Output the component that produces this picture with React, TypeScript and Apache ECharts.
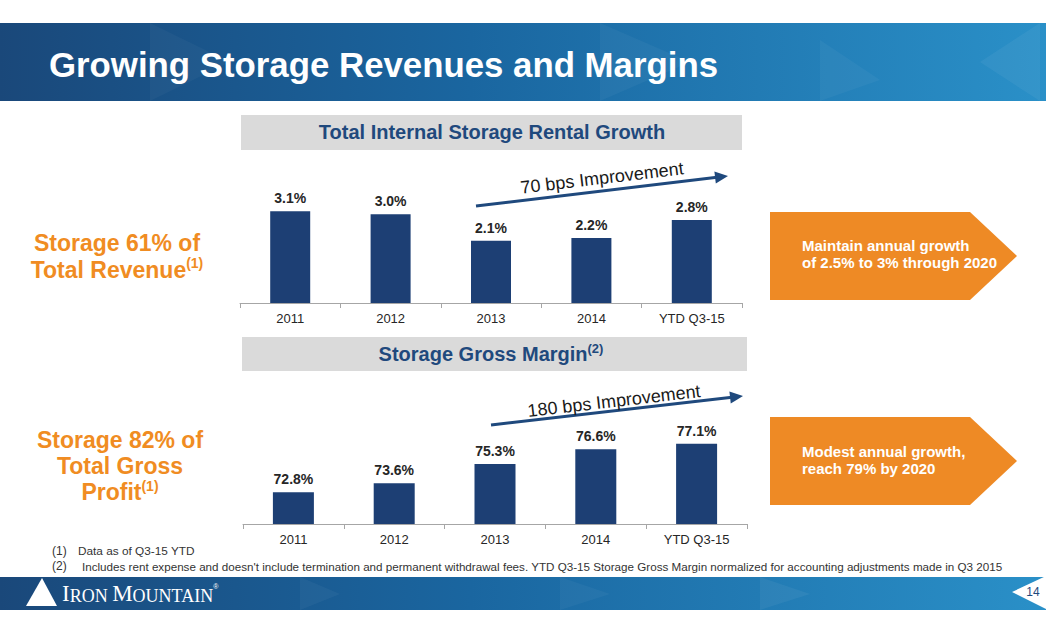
import React, { useEffect, useRef } from "react";
import * as echarts from "echarts";

const categories = ["2011", "2012", "2013", "2014", "YTD Q3-15"];
const rentalGrowth = [3.1, 3.0, 2.1, 2.2, 2.8];
const grossMargin = [72.8, 73.6, 75.3, 76.6, 77.1];

const FONT = "'Liberation Sans', Arial, Helvetica, sans-serif";
const SERIF = "'Liberation Serif', 'DejaVu Serif', serif";
const NAVY = "#1f497d";
const BAR = "#1d3f74";
const ORANGE = "#f08c22";
const BOX = "#ee8a25";
const AXIS = "#a6a6a6";

function arrow(x1: number, y1: number, x2: number, y2: number) {
  const a = Math.atan2(y2 - y1, x2 - x1);
  const L = 13, W = 6;
  const bx = x2 - L * Math.cos(a), by = y2 - L * Math.sin(a);
  const px = -Math.sin(a), py = Math.cos(a);
  return [
    { type: "line", shape: { x1, y1, x2: bx + 2 * Math.cos(a), y2: by + 2 * Math.sin(a) }, style: { stroke: NAVY, lineWidth: 3 } },
    {
      type: "polygon",
      shape: { points: [[x2, y2], [bx + px * W, by + py * W], [bx - px * W, by - py * W]] },
      style: { fill: NAVY },
    },
  ];
}

function bandGradient() {
  return new echarts.graphic.LinearGradient(0, 0, 1, 0, [
    { offset: 0, color: "#1a487a" },
    { offset: 0.45, color: "#1a66a0" },
    { offset: 1, color: "#2a90c8" },
  ]);
}

export default function App() {
  const ref = useRef<HTMLDivElement>(null);
  useEffect(() => {
    document.body.style.margin = "0";
    const chart = echarts.init(ref.current!, null, { renderer: "svg" });
    const labelStyle = {
      show: true,
      position: "top",
      distance: 6,
      fontFamily: FONT,
      fontSize: 14,
      fontWeight: "bold",
      color: "#262626",
      formatter: (p: any) => Number(p.value).toFixed(1) + "%",
    };
    const xAxisCommon = {
      type: "category",
      data: categories,
      axisLine: { lineStyle: { color: AXIS, width: 1 } },
      axisTick: { show: true, length: 5, lineStyle: { color: AXIS } },
      axisLabel: { fontFamily: FONT, fontSize: 13, color: "#262626", margin: 9 },
    };
    const tri = (pts: number[][], op: number) => ({
      type: "polygon",
      shape: { points: pts },
      style: { fill: "rgba(255,255,255," + op + ")" },
    });
    chart.setOption({
      animation: false,
      backgroundColor: "#ffffff",
      grid: [
        { left: 240, width: 502, top: 155, bottom: 332 },
        { left: 243, width: 504, top: 377, bottom: 111 },
      ],
      xAxis: [
        { ...xAxisCommon, gridIndex: 0 },
        { ...xAxisCommon, gridIndex: 1 },
      ],
      yAxis: [
        { type: "value", gridIndex: 0, min: 0, max: 5, show: false, splitLine: { show: false } },
        { type: "value", gridIndex: 1, min: 70, max: 83, show: false, splitLine: { show: false } },
      ],
      series: [
        {
          type: "bar",
          xAxisIndex: 0,
          yAxisIndex: 0,
          data: rentalGrowth,
          barWidth: 40,
          itemStyle: { color: BAR },
          label: labelStyle,
        },
        {
          type: "bar",
          xAxisIndex: 1,
          yAxisIndex: 1,
          data: grossMargin,
          barWidth: 41,
          itemStyle: { color: BAR },
          label: labelStyle,
        },
      ],
      graphic: [
        // header band
        { type: "rect", shape: { x: 0, y: 23, width: 1046, height: 78 }, style: { fill: bandGradient() } },
        tri([[150, 23], [230, 62], [150, 101]], 0.03),
        tri([[600, 23], [690, 62], [600, 101]], 0.04),
        tri([[820, 40], [880, 80], [820, 101]], 0.04),
        tri([[1040, 23], [980, 62], [1040, 101]], 0.05),
        {
          type: "text",
          x: 49,
          y: 64,
          style: { text: "Growing Storage Revenues and Margins", fill: "#ffffff", font: "bold 34.8px " + FONT, textVerticalAlign: "middle" },
        },
        // grey section headers
        { type: "rect", shape: { x: 241, y: 115, width: 501, height: 35 }, style: { fill: "#dadada" } },
        {
          type: "text",
          x: 492,
          y: 132,
          style: { text: "Total Internal Storage Rental Growth", fill: NAVY, font: "bold 20px " + FONT, textAlign: "center", textVerticalAlign: "middle" },
        },
        { type: "rect", shape: { x: 242, y: 337, width: 505, height: 34 }, style: { fill: "#dadada" } },
        {
          type: "text",
          x: 491,
          y: 354,
          style: {
            text: "{a|Storage Gross Margin}{s|(2)}",
            textAlign: "center",
            textVerticalAlign: "middle",
            rich: {
              a: { fontFamily: FONT, fontSize: 20, fontWeight: "bold", fill: NAVY, lineHeight: 24, align: "center" },
              s: { fontFamily: FONT, fontSize: 13, fontWeight: "bold", fill: NAVY, lineHeight: 14, verticalAlign: "top", align: "center" },
            },
          },
        },
        // improvement arrows
        ...arrow(476, 206, 728, 176),
        {
          type: "text",
          x: 602,
          y: 178,
          rotation: 0.119,
          style: { text: "70 bps Improvement", fill: "#1a1a1a", font: "18px " + FONT, textAlign: "center", textVerticalAlign: "middle" },
        },
        ...arrow(491, 425, 743, 396),
        {
          type: "text",
          x: 614,
          y: 401,
          rotation: 0.115,
          style: { text: "180 bps Improvement", fill: "#1a1a1a", font: "18px " + FONT, textAlign: "center", textVerticalAlign: "middle" },
        },
        // left orange callouts
        {
          type: "text",
          x: 117,
          y: 256,
          style: {
            text: "{a|Storage 61% of}\n{a|Total Revenue}{s|(1)}",
            textAlign: "center",
            textVerticalAlign: "middle",
            rich: {
              a: { fontFamily: FONT, fontSize: 23, fontWeight: "bold", fill: ORANGE, lineHeight: 27, align: "center" },
              s: { fontFamily: FONT, fontSize: 14, fontWeight: "bold", fill: ORANGE, lineHeight: 17, verticalAlign: "top", align: "center" },
            },
          },
        },
        {
          type: "text",
          x: 120,
          y: 466,
          style: {
            text: "{a|Storage 82% of}\n{a|Total Gross}\n{a|Profit}{s|(1)}",
            textAlign: "center",
            textVerticalAlign: "middle",
            rich: {
              a: { fontFamily: FONT, fontSize: 23, fontWeight: "bold", fill: ORANGE, lineHeight: 26, align: "center" },
              s: { fontFamily: FONT, fontSize: 14, fontWeight: "bold", fill: ORANGE, lineHeight: 17, verticalAlign: "top", align: "center" },
            },
          },
        },
        // right orange arrow boxes
        {
          type: "polygon",
          shape: { points: [[770, 212], [970, 212], [1017, 256], [970, 300], [770, 300]] },
          style: { fill: BOX },
        },
        {
          type: "text",
          x: 802,
          y: 254,
          style: {
            text: "Maintain annual growth\nof 2.5% to 3% through 2020",
            fill: "#ffffff",
            font: "bold 15px " + FONT,
            lineHeight: 17,
            textVerticalAlign: "middle",
          },
        },
        {
          type: "polygon",
          shape: { points: [[770, 417], [970, 417], [1017, 461], [970, 505], [770, 505]] },
          style: { fill: BOX },
        },
        {
          type: "text",
          x: 802,
          y: 460,
          style: {
            text: "Modest annual growth,\nreach 79% by 2020",
            fill: "#ffffff",
            font: "bold 15px " + FONT,
            lineHeight: 17,
            textVerticalAlign: "middle",
          },
        },
        // footnotes
        { type: "text", x: 52, y: 551, style: { text: "(1)", fill: "#333333", font: "12px " + FONT, textVerticalAlign: "middle" } },
        { type: "text", x: 78, y: 551, style: { text: "Data as of Q3-15 YTD", fill: "#333333", font: "11.8px " + FONT, textVerticalAlign: "middle" } },
        { type: "text", x: 52, y: 566, style: { text: "(2)", fill: "#333333", font: "12px " + FONT, textVerticalAlign: "middle" } },
        {
          type: "text",
          x: 82,
          y: 566,
          style: {
            text: "Includes rent expense and doesn't include termination and permanent withdrawal fees. YTD Q3-15 Storage Gross Margin normalized for accounting adjustments made in Q3 2015",
            fill: "#333333",
            font: "11.65px " + FONT,
            textVerticalAlign: "middle",
          },
        },
        // footer band
        { type: "rect", shape: { x: 0, y: 577, width: 1046, height: 33 }, style: { fill: bandGradient() } },
        tri([[300, 577], [340, 594], [300, 610]], 0.04),
        tri([[560, 577], [610, 594], [560, 610]], 0.04),
        tri([[760, 577], [810, 594], [760, 610]], 0.05),
        { type: "polygon", shape: { points: [[26, 606], [42, 578], [57, 606]] }, style: { fill: "#ffffff" } },
        {
          type: "text",
          x: 62,
          y: 605,
          style: {
            text: "{b|I}{s|RON }{b|M}{s|OUNTAIN}{r|®}",
            textVerticalAlign: "bottom",
            rich: {
              b: { fontFamily: SERIF, fontSize: 23, fill: "#ffffff", lineHeight: 22, verticalAlign: "bottom" },
              s: { fontFamily: SERIF, fontSize: 18, fill: "#ffffff", lineHeight: 17, verticalAlign: "bottom" },
              r: { fontFamily: FONT, fontSize: 7, fill: "#ffffff", lineHeight: 8, verticalAlign: "top" },
            },
          },
        },
        { type: "polygon", shape: { points: [[1046, 576], [1012, 592], [1046, 609]] }, style: { fill: "#ffffff" } },
        {
          type: "text",
          x: 1033,
          y: 592,
          style: { text: "14", fill: NAVY, font: "12px " + FONT, textAlign: "center", textVerticalAlign: "middle" },
        },
      ],
    });
    return () => chart.dispose();
  }, []);
  return (
    <div
      ref={ref}
      style={{ position: "fixed", left: 0, top: 0, width: 1046, height: 635, background: "#ffffff" }}
    />
  );
}
